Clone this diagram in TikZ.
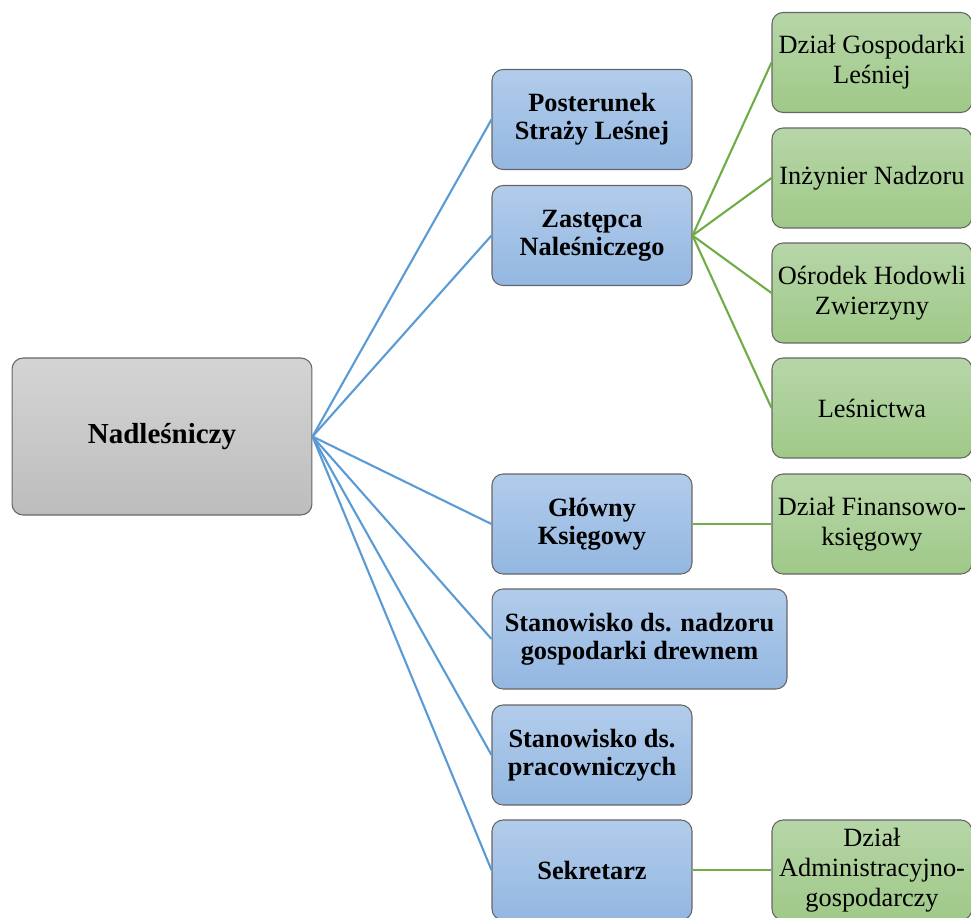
\documentclass[tikz,border=0pt]{standalone}
\usepackage{fontspec}
\setmainfont{Liberation Serif}
\definecolor{boxline}{HTML}{666666}
\definecolor{chieftop}{HTML}{D4D4D4}
\definecolor{chiefbot}{HTML}{BDBDBD}
\definecolor{posttop}{HTML}{B2CCEB}
\definecolor{postbot}{HTML}{93B7E1}
\definecolor{unittop}{HTML}{B7D6A8}
\definecolor{unitbot}{HTML}{9FC988}
\definecolor{linkblue}{HTML}{5B9BD5}
\definecolor{linkgreen}{HTML}{70AD47}
\tikzset{
  box/.style={draw=boxline, line width=0.6pt, rounded corners=0.22cm, align=center, inner sep=2pt},
  chief/.style={box, top color=chieftop, bottom color=chiefbot, minimum width=6cm, minimum height=3.14cm,
    font=\fontsize{16.5}{20}\selectfont\bfseries},
  post/.style={box, top color=posttop, bottom color=postbot, minimum width=4cm, minimum height=2cm,
    font=\fontsize{15}{16}\selectfont\bfseries},
  unit/.style={box, top color=unittop, bottom color=unitbot, minimum width=4cm, minimum height=2cm,
    font=\fontsize{15}{17}\selectfont},
  bluelink/.style={draw=linkblue, line width=1.2pt},
  greenlink/.style={draw=linkgreen, line width=1.2pt}
}

\begin{document}
\begin{tikzpicture}[x=0.02cm,y=-0.02cm]
  \useasboundingbox (0,0) rectangle (971,917);
  \clip (0,0) rectangle (971,917);

  % root
  \node[chief] (nadl) at (162,436.5) {Nadleśniczy};

  % second level
  \node[post] (post) at (592,119.5) {Posterunek\\Straży Leśnej};
  \node[post] (zast) at (592,235.5) {Zastępca\\Naleśniczego};
  \node[post] (ksieg) at (592,524) {Główny\\Księgowy};
  \node[post, minimum width=5.9cm] (drewno) at (639.5,639) {Stanowisko ds. nadzoru\\gospodarki drewnem};
  \node[post] (kadry) at (592,755) {Stanowisko ds.\\pracowniczych};
  \node[post] (sekr) at (592,870) {Sekretarz};

  % third level
  \node[unit] (gosp) at (872,62.5) {Dział Gospodarki\\Leśniej};
  \node[unit] (inz) at (872,178) {Inżynier Nadzoru};
  \node[unit] (osr) at (872,293) {Ośrodek Hodowli\\Zwierzyny};
  \node[unit] (lesn) at (872,408) {Leśnictwa};
  \node[unit] (fin) at (872,524) {Dział Finansowo-\\księgowy};
  \node[unit] (adm) at (872,870) {Dział\\Administracyjno-\\gospodarczy};

  \foreach \n in {post,zast,ksieg,drewno,kadry,sekr}
    \draw[bluelink] (nadl.east) -- (\n.west);
  \foreach \n in {gosp,inz,osr,lesn}
    \draw[greenlink] (zast.east) -- (\n.west);
  \draw[greenlink] (ksieg) -- (fin);
  \draw[greenlink] (sekr) -- (adm);
\end{tikzpicture}
\end{document}
